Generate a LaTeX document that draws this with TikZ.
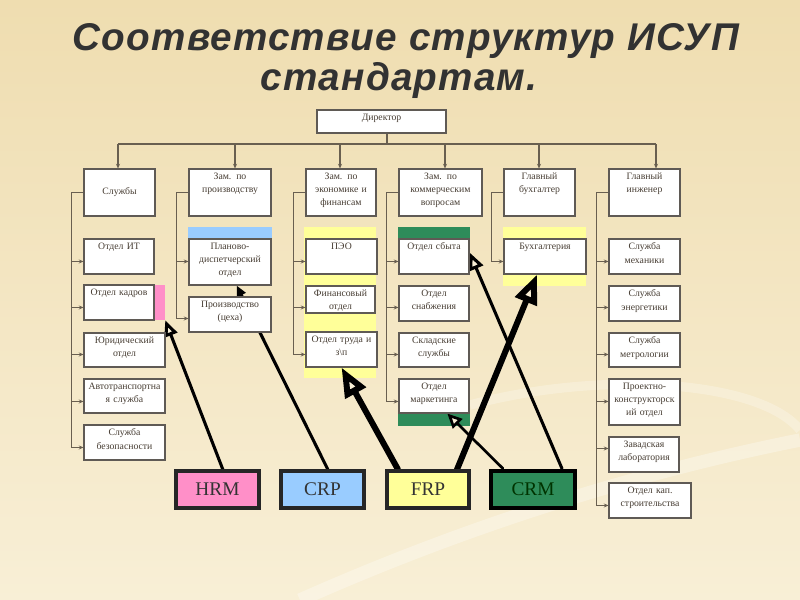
\documentclass[tikz,border=0pt]{standalone}
\usepackage{fontspec}
\setmainfont{Liberation Serif}
\newfontfamily\titlefont[LetterSpace=3]{Liberation Sans}
\usetikzlibrary{arrows.meta,calc,fit,backgrounds}
\pgfdeclarelayer{arrowlayer}
\pgfsetlayers{background,arrowlayer,main}
\definecolor{bgtop}{RGB}{239,221,176}
\definecolor{bgbot}{RGB}{248,239,214}
\definecolor{boxline}{RGB}{95,90,85}
\definecolor{txtc}{RGB}{70,60,50}
\definecolor{connc}{RGB}{105,95,80}
\definecolor{pinkc}{RGB}{255,143,200}
\definecolor{bluec}{RGB}{153,204,255}
\definecolor{yellc}{RGB}{255,255,153}
\definecolor{greenc}{RGB}{46,140,90}
\definecolor{titlec}{RGB}{50,50,50}
\newcommand\obox[6]{%
  \node[box, fit={(#2,#3) (#4,#5)}] (#1) {};
  \pgfmathsetmacro\tw{(#4-#2)*0.75-1}
  \node[btxt, text width=\tw pt, anchor=north] (#1-t) at ($(#1.north)+(0,4)$) {#6};
}
\newcommand\branch[3]{%
  \draw[cto] (#1.west) -- ++(-12,0) |- ($(#2.north west)+(0,#3)$);
}
\begin{document}
\begin{tikzpicture}[x=0.75pt,y=-0.75pt,
  box/.style={draw=boxline, line width=0.8pt, fill=white, inner sep=0pt},
  btxt/.style={text=txtc, font=\fontsize{7.3}{10}\selectfont, align=center, inner sep=0pt},
  conn/.style={draw=connc, line width=0.8pt},
  cto/.style={conn, -{Stealth[length=3.5pt,width=3pt]}},
  strip/.style={draw=none, inner sep=0pt},
  erp/.style={draw=black!85, line width=2.3pt, inner sep=0pt},
  erptxt/.style={text=black!80, font=\fontsize{14.5}{16}\selectfont, inner sep=0pt},
  titletext/.style={text=titlec, font=\titlefont\bfseries\itshape\fontsize{29}{34}\selectfont, inner sep=0pt, anchor=base},
  bigarrow/.style={draw=black, line cap=round}
]
\useasboundingbox (0,0) rectangle (800,600);
\begin{pgfonlayer}{background}
  \shade[top color=bgtop, bottom color=bgbot] (0,0) rectangle (800,600);
  \draw[white, opacity=0.3, line width=10pt] (300,600) .. controls (480,520) and (650,470) .. (800,440);
  \draw[white, opacity=0.25, line width=7pt] (470,405) .. controls (600,370) and (760,380) .. (800,430);
  \node[strip, fill=pinkc, fit={(150,285) (165,320)}] (kads) {};
  \node[strip, fill=bluec, fit={(188,227) (272,286)}] (pds) {};
  \node[strip, fill=yellc, fit={(304,227) (376,378)}] (ecs) {};
  \node[strip, fill=greenc, fit={(398,227) (470,275)}] (sbs) {};
  \node[strip, fill=greenc, fit={(398,379) (470,426)}] (mas) {};
  \node[strip, fill=yellc, fit={(503,227) (586,286)}] (bus) {};
\end{pgfonlayer}

% title
\node[titletext] (t1) at (406,50) {Соответствие структур ИСУП};
\node[titletext] (t2) at (399,90) {стандартам.};

% director and level 2
\obox{dir}{317}{110}{446}{133}{Директор}
\node[box, fit={(84,169) (155,216)}] (sl) {};
\node[btxt] (sl-t) at (sl.center) {Службы};
\obox{zp}{189}{169}{271}{216}{Зам. по\\производству}
\obox{ze}{306}{169}{376}{216}{Зам. по\\экономике и\\финансам}
\obox{zk}{399}{169}{482}{216}{Зам. по\\коммерческим\\вопросам}
\obox{gb}{504}{169}{575}{216}{Главный\\бухгалтер}
\obox{gi}{609}{169}{680}{216}{Главный\\инженер}

% column 1
\obox{it}{84}{239}{154}{274}{Отдел ИТ}
\obox{kad}{84}{285}{154}{320}{Отдел кадров}
\obox{yur}{84}{333}{165}{367}{Юридический\\отдел}
\obox{avt}{84}{379}{165}{413}{Автотранспортна\\я служба}
\obox{bez}{84}{425}{165}{460}{Служба\\безопасности}
% column 2
\obox{pd}{189}{239}{271}{285}{Планово-\\диспетчерский\\отдел}
\obox{pr}{189}{297}{271}{332}{Производство\\(цеха)}
% column 3
\obox{peo}{306}{239}{377}{274}{ПЭО}
\obox{fin}{306}{286}{375}{313}{Финансовый\\отдел}
\obox{tru}{306}{332}{377}{367}{Отдел труда и\\з\textbackslash п}
% column 4
\obox{sby}{399}{239}{469}{274}{Отдел сбыта}
\obox{sna}{399}{286}{469}{321}{Отдел\\снабжения}
\obox{skl}{399}{333}{469}{367}{Складские\\службы}
\obox{mar}{399}{379}{469}{413}{Отдел\\маркетинга}
% column 5
\obox{buh}{504}{239}{586}{274}{Бухгалтерия}
% column 6
\obox{mex}{609}{239}{680}{274}{Служба\\механики}
\obox{ene}{609}{286}{680}{321}{Служба\\энергетики}
\obox{met}{609}{333}{680}{367}{Служба\\метрологии}
\obox{pko}{609}{379}{680}{425}{Проектно-\\конструкторск\\ий отдел}
\obox{zav}{609}{437}{679}{472}{Завадская\\лаборатория}
\obox{kap}{609}{483}{691}{518}{Отдел кап.\\строительства}

% director bus
\coordinate (bc) at (387,144);
\coordinate (b1) at (118,144);
\coordinate (b2) at (235,144);
\coordinate (b3) at (340,144);
\coordinate (b4) at (445,144);
\coordinate (b5) at (539,144);
\coordinate (b6) at (656,144);
\draw[conn] (dir.south -| bc) -- (bc);
\draw[conn] (b1) -- (b6);
\draw[cto] (b1) -- (b1 |- sl.north);
\draw[cto] (b2) -- (b2 |- zp.north);
\draw[cto] (b3) -- (b3 |- ze.north);
\draw[cto] (b4) -- (b4 |- zk.north);
\draw[cto] (b5) -- (b5 |- gb.north);
\draw[cto] (b6) -- (b6 |- gi.north);

% branches
\branch{sl}{it}{23}
\branch{sl}{kad}{23}
\branch{sl}{yur}{22}
\branch{sl}{avt}{23}
\branch{sl}{bez}{23}
\branch{zp}{pd}{23}
\branch{zp}{pr}{22}
\branch{ze}{peo}{23}
\branch{ze}{fin}{22}
\branch{ze}{tru}{23}
\branch{zk}{sby}{23}
\branch{zk}{sna}{22}
\branch{zk}{skl}{22}
\branch{zk}{mar}{23}
\branch{gb}{buh}{23}
\branch{gi}{mex}{23}
\branch{gi}{ene}{22}
\branch{gi}{met}{22}
\branch{gi}{pko}{23}
\branch{gi}{zav}{12}
\branch{gi}{kap}{23}

% ERP boxes
\node[erp, fill=pinkc, fit={(176,471) (259,508)}] (hrm) {};
\node[erp, fill=bluec, fit={(281,471) (364,508)}] (crp) {};
\node[erp, fill=yellc, fit={(387,471) (469,508)}] (frp) {};
\node[erp, fill=greenc, draw=black, line width=3.6pt, fit={(491,471) (575,508)}] (crm) {};
\node[erptxt] (hrm-t) at (hrm.center) {HRM};
\node[erptxt] (crp-t) at (crp.center) {CRP};
\node[erptxt] (frp-t) at (frp.center) {FRP};
\node[erptxt, text=black!80!green] (crm-t) at (crm.center) {CRM};

\begin{pgfonlayer}{arrowlayer}
  \draw[bigarrow, line width=2.3pt, -{Triangle[open,fill=bgbot,length=12pt,width=10pt]}] ([xshift=4pt]hrm.north) -- (kads.south east);
  \draw[bigarrow, line width=2.3pt, -{Triangle[length=8pt,width=7pt]}] ([xshift=4pt]crp.north) -- ([xshift=5pt]pd.south);
  \draw[bigarrow, line width=4.5pt, -{Triangle[fill=bgbot,length=22pt,width=17pt]}] ([xshift=-22.5pt]frp.north) -- (tru.south);
  \draw[bigarrow, line width=4.5pt, -{Triangle[fill=bgbot,length=22pt,width=17pt]}] ([xshift=21.75pt]frp.north) -- ([xshift=-6pt]buh.south);
  \draw[bigarrow, line width=2.3pt, -{Triangle[fill=bgbot,length=13pt,width=11pt]}] ([xshift=21.75pt]crm.north) -- ([yshift=3pt]sby.east);
  \draw[bigarrow, line width=2pt, -{Triangle[fill=bgbot,length=11pt,width=10pt]}] ([xshift=-22.5pt]crm.north) -- ([xshift=10pt]mar.south);
\end{pgfonlayer}
\end{tikzpicture}
\end{document}
